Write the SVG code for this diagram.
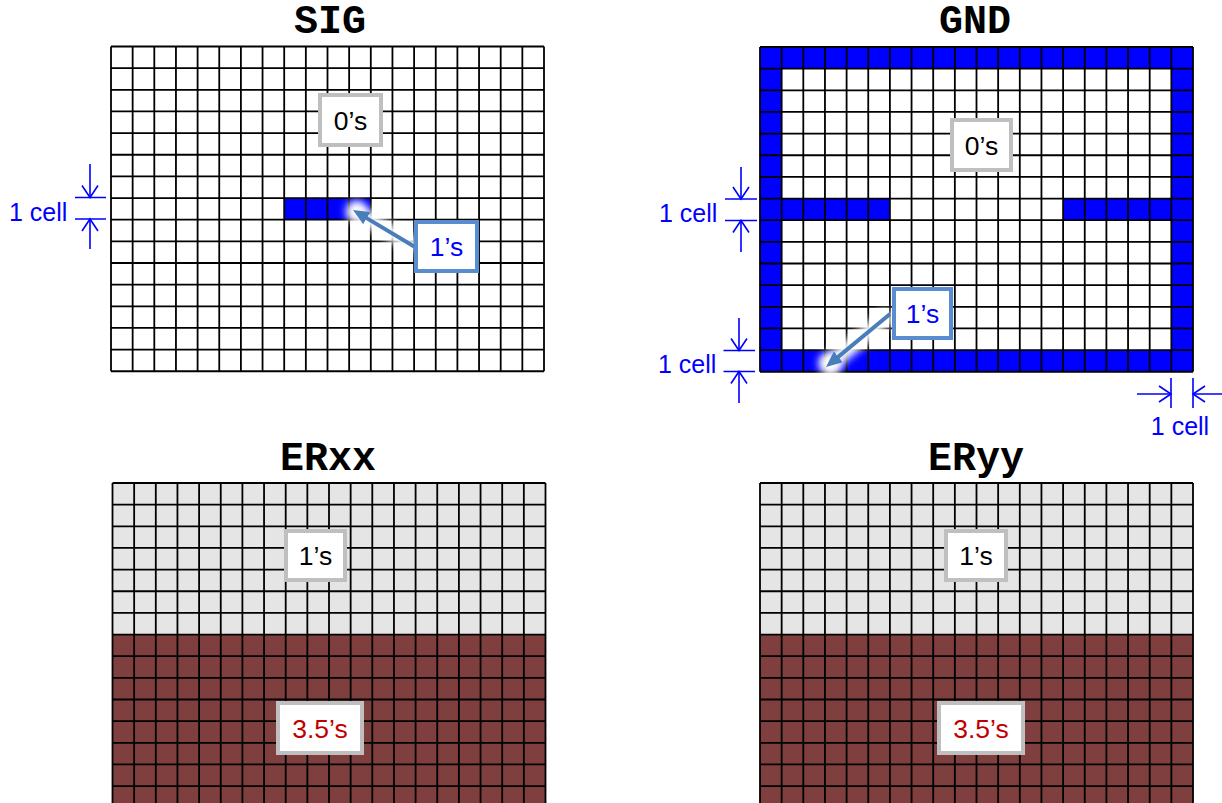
<svg xmlns="http://www.w3.org/2000/svg" xmlns:xlink="http://www.w3.org/1999/xlink" width="1222" height="803" viewBox="0 0 1222 803">
<style>
.title{font-family:"Liberation Mono","Courier New",monospace;font-weight:bold;font-size:40px;fill:#000;text-anchor:middle}
.lbl{font-family:"Liberation Sans",Arial,sans-serif;font-size:26.5px;text-anchor:middle}
.dimt{font-family:"Liberation Sans",Arial,sans-serif;font-size:25px;fill:#0000ff}
.gbox{fill:#fff;stroke:#bfbfbf;stroke-width:4}
.bbox{fill:#fff;stroke:#5a8dd0;stroke-width:4}
.grid{fill:none;stroke:#000;stroke-width:1.8}
.dim{fill:none;stroke:#0000ff;stroke-width:1.6}
.arr{fill:none;stroke:#4a7ebb;stroke-width:4}
.glow{fill:none;stroke:#fff;stroke-width:16;filter:url(#blur)}
</style>
<defs>
<path id="grid" class="grid" d="M0,0v324.75m21.65,-324.75v324.75m21.65,-324.75v324.75m21.65,-324.75v324.75m21.65,-324.75v324.75m21.65,-324.75v324.75m21.65,-324.75v324.75m21.65,-324.75v324.75m21.65,-324.75v324.75m21.65,-324.75v324.75m21.65,-324.75v324.75m21.65,-324.75v324.75m21.65,-324.75v324.75m21.65,-324.75v324.75m21.65,-324.75v324.75m21.65,-324.75v324.75m21.65,-324.75v324.75m21.65,-324.75v324.75m21.65,-324.75v324.75m21.65,-324.75v324.75m21.65,-324.75v324.75M0,0h433m-433,21.65h433m-433,21.65h433m-433,21.65h433m-433,21.65h433m-433,21.65h433m-433,21.65h433m-433,21.65h433m-433,21.65h433m-433,21.65h433m-433,21.65h433m-433,21.65h433m-433,21.65h433m-433,21.65h433m-433,21.65h433m-433,21.65h433"/>
<filter id="blur" x="-50%" y="-50%" width="200%" height="200%"><feGaussianBlur stdDeviation="4"/></filter>
<marker id="head" markerUnits="userSpaceOnUse" markerWidth="16" markerHeight="14" refX="6" refY="7" orient="auto"><path d="M0,0L16,7L0,14z" fill="#4a7ebb"/></marker>
<path id="vdn" d="M-8,-12L0,0L8,-12"/>
</defs>

<g id="sig">
<text class="title" x="330" y="33">SIG</text>
<rect x="111" y="46.5" width="433" height="324.75" fill="#fff"/>
<rect x="284.2" y="198.05" width="86.6" height="21.65" fill="#0000ff"/>
<use xlink:href="#grid" x="111" y="46.5"/>
</g>

<g id="gnd">
<text class="title" x="975" y="33">GND</text>
<rect x="760" y="47" width="433" height="324.75" fill="#fff"/>
<g fill="#0000ff">
<rect x="760" y="47" width="433" height="21.65"/>
<rect x="760" y="350.1" width="433" height="21.65"/>
<rect x="760" y="47" width="21.65" height="324.75"/>
<rect x="1171.35" y="47" width="21.65" height="324.75"/>
<rect x="760" y="198.55" width="129.9" height="21.65"/>
<rect x="1063.1" y="198.55" width="129.9" height="21.65"/>
</g>
<use xlink:href="#grid" x="760" y="47"/>
</g>

<g id="erxx">
<text class="title" x="328" y="470">ERxx</text>
<rect x="112.5" y="483" width="433" height="151.55" fill="#e5e5e5"/>
<rect x="112.5" y="634.55" width="433" height="173.2" fill="#7f3f3f"/>
<use xlink:href="#grid" x="112.5" y="483"/>
</g>

<g id="eryy">
<text class="title" x="976" y="470">ERyy</text>
<rect x="760" y="483" width="433" height="151.55" fill="#e5e5e5"/>
<rect x="760" y="634.55" width="433" height="173.2" fill="#7f3f3f"/>
<use xlink:href="#grid" x="760" y="483"/>
</g>

<g id="connectors">
<line class="glow" x1="415" y1="247" x2="353" y2="210"/>
<circle cx="356" cy="211" r="10" fill="#fff" filter="url(#blur)"/>
<line class="arr" x1="415" y1="247" x2="361.6" y2="215.1" marker-end="url(#head)"/>
<line class="glow" x1="890" y1="314" x2="826" y2="367"/>
<circle cx="830" cy="364" r="11" fill="#fff" filter="url(#blur)"/>
<line class="arr" x1="890" y1="314" x2="833.7" y2="360.6" marker-end="url(#head)"/>

<g id="dim-sig" class="dim">
<path d="M75,197.5H106M75,219H106M90,164V197.5M90,249V219"/>
<use xlink:href="#vdn" x="90" y="197.5"/>
<use xlink:href="#vdn" transform="translate(90,219) scale(1,-1)"/>
</g>
<g id="dim-gnd1" class="dim">
<path d="M725,199H757M725,220.5H757M741,167V199M741,252V220.5"/>
<use xlink:href="#vdn" x="741" y="199"/>
<use xlink:href="#vdn" transform="translate(741,220.5) scale(1,-1)"/>
</g>
<g id="dim-gnd2" class="dim">
<path d="M723.5,350.5H755M723.5,371.5H755M739,318V350.5M739,403V371.5"/>
<use xlink:href="#vdn" x="739" y="350.5"/>
<use xlink:href="#vdn" transform="translate(739,371.5) scale(1,-1)"/>
</g>
<g id="dim-gnd3" class="dim">
<path d="M1171,378V408M1193,378V408M1137,394H1171M1222,394H1193"/>
<use xlink:href="#vdn" transform="translate(1171,394) rotate(-90)"/>
<use xlink:href="#vdn" transform="translate(1193,394) rotate(90)"/>
</g>
</g>

<g id="labels">
<text class="dimt" x="9" y="220.5">1 cell</text>
<text class="dimt" x="659" y="222">1 cell</text>
<text class="dimt" x="658" y="373">1 cell</text>
<text class="dimt" x="1180" y="435" text-anchor="middle">1 cell</text>
</g>

<g id="sig-zeros"><rect class="gbox" x="320" y="95" width="61" height="50"/><text class="lbl" x="350.5" y="130" fill="#000">0’s</text></g>
<g id="sig-ones"><rect class="bbox" x="416" y="222" width="61" height="49"/><text class="lbl" x="446.5" y="256" fill="#0000ff">1’s</text></g>
<g id="gnd-zeros"><rect class="gbox" x="952" y="120" width="59" height="50"/><text class="lbl" x="981.5" y="155" fill="#000">0’s</text></g>
<g id="gnd-ones"><rect class="bbox" x="894" y="289" width="57" height="49"/><text class="lbl" x="922.5" y="323" fill="#0000ff">1’s</text></g>
<g id="erxx-ones"><rect class="gbox" x="286" y="531" width="59" height="49"/><text class="lbl" x="315.5" y="565" fill="#000">1’s</text></g>
<g id="erxx-35"><rect class="gbox" x="278" y="703" width="84" height="50"/><text class="lbl" x="320" y="738" fill="#c00000">3.5’s</text></g>
<g id="eryy-ones"><rect class="gbox" x="946" y="531" width="60" height="49"/><text class="lbl" x="976" y="565" fill="#000">1’s</text></g>
<g id="eryy-35"><rect class="gbox" x="939" y="703" width="84" height="50"/><text class="lbl" x="981" y="738" fill="#c00000">3.5’s</text></g>
</svg>
